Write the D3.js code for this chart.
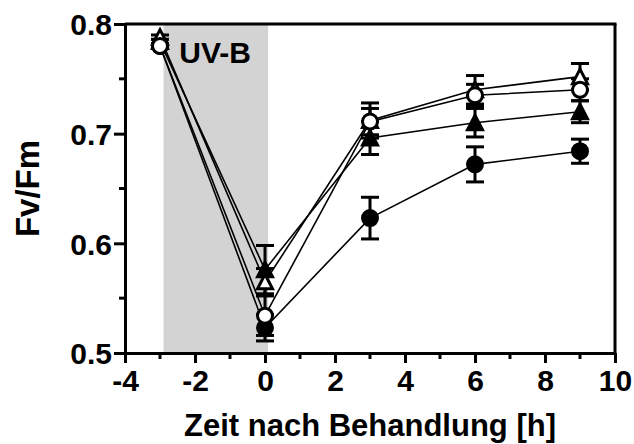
<!DOCTYPE html>
<html><head><meta charset="utf-8">
<script src="https://cdn.jsdelivr.net/npm/d3@7"></script>
<style>html,body{margin:0;padding:0;background:#fff;} text{font-family:"Liberation Sans",Arial,sans-serif;font-weight:bold;fill:#000;}</style>
</head><body><svg id="c" width="634" height="444"></svg>
<script>
const times = [-3, 0, 3, 6, 9];
const filledCircle = [0.780, 0.523, 0.623, 0.672, 0.684];
const filledCircleErr = [0.002, 0.012, 0.019, 0.016, 0.011];
const filledTriangle = [0.784, 0.576, 0.696, 0.710, 0.720];
const filledTriangleErr = [0.002, 0.022, 0.015, 0.013, 0.010];
const openTriangle = [0.788, 0.565, 0.712, 0.740, 0.752];
const openTriangleErr = [0.002, 0.012, 0.016, 0.013, 0.012];
const openCircle = [0.780, 0.534, 0.711, 0.735, 0.740];
const openCircleErr = [0.002, 0.018, 0.012, 0.010, 0.010];
const uvPeriod = [-2.9, 0.09];
const xTicks = [-4, -2, 0, 2, 4, 6, 8, 10];
const xMinor = [-3, -1, 1, 3, 5, 7, 9];
const yTicks = [0.5, 0.6, 0.7, 0.8];
const yMinor = [0.55, 0.65, 0.75];

const series = [
  {v: filledCircle, e: filledCircleErr, shape: "circle", fill: "#000"},
  {v: filledTriangle, e: filledTriangleErr, shape: "triangle", fill: "#000"},
  {v: openTriangle, e: openTriangleErr, shape: "triangle", fill: "#fff"},
  {v: openCircle, e: openCircleErr, shape: "circle", fill: "#fff"}
];

const W = 634, H = 444;
const m = {l: 125, r: 19, t: 24, b: 91};
const x = d3.scaleLinear().domain([-4, 10]).range([m.l, W - m.r]);
const y = d3.scaleLinear().domain([0.5, 0.8]).range([H - m.b, m.t]);
const svg = d3.select("#c");

// UV-B shaded region
svg.append("rect").attr("x", x(uvPeriod[0])).attr("y", y(0.8))
  .attr("width", x(uvPeriod[1]) - x(uvPeriod[0])).attr("height", y(0.5) - y(0.8))
  .attr("fill", "#d3d3d3");
svg.append("text").attr("x", x(-2.45)).attr("y", y(0.8) + 39).attr("font-size", 30).text("UV-B");

// frame
svg.append("line").attr("x1", x(-4)).attr("x2", x(10) + 1.5).attr("y1", y(0.8)).attr("y2", y(0.8)).attr("stroke", "#000").attr("stroke-width", 3);
svg.append("line").attr("x1", x(10)).attr("x2", x(10)).attr("y1", y(0.8)).attr("y2", y(0.5)).attr("stroke", "#000").attr("stroke-width", 3);

// axes
const xAxis = svg.append("g").attr("transform", `translate(0,${y(0.5)})`)
  .call(d3.axisBottom(x).tickValues(xTicks).tickSize(10).tickPadding(6).tickSizeOuter(0).tickFormat(d => String(d)));
xAxis.append("g").selectAll("line").data(xMinor).join("line")
  .attr("x1", d => x(d)).attr("x2", d => x(d)).attr("y1", 0).attr("y2", 6).attr("stroke", "#000").attr("stroke-width", 3);
const yAxis = svg.append("g").attr("transform", `translate(${x(-4)},0)`)
  .call(d3.axisLeft(y).tickValues(yTicks).tickSize(11).tickPadding(2).tickSizeOuter(0).tickFormat(d => d.toFixed(1)));
yAxis.append("g").selectAll("line").data(yMinor).join("line")
  .attr("x1", 0).attr("x2", -6).attr("y1", d => y(d)).attr("y2", d => y(d)).attr("stroke", "#000").attr("stroke-width", 3);
[xAxis, yAxis].forEach(a => {
  a.select(".domain").attr("stroke-width", 3).attr("stroke", "#000");
  a.selectAll(".tick line").attr("stroke-width", 3).attr("stroke", "#000");
  a.selectAll(".tick text").attr("font-size", 30).attr("font-family", '"Liberation Sans",Arial,sans-serif').attr("font-weight", "bold").attr("fill", "#000");
});
xAxis.selectAll(".tick text").attr("dy", "0.72em");
yAxis.selectAll(".tick text").attr("dy", "0.36em");

// axis titles
svg.append("text").attr("x", (x(-4) + x(10)) / 2).attr("y", 436).attr("text-anchor", "middle").attr("font-size", 31).text("Zeit nach Behandlung [h]");
svg.append("text").attr("transform", `translate(39,${(y(0.5) + y(0.8)) / 2}) rotate(-90)`).attr("text-anchor", "middle").attr("font-size", 33).text("Fv/Fm");

// lines
const line = d3.line().x((d, i) => x(times[i])).y(d => y(d));
const gLines = svg.append("g");
series.forEach(s => gLines.append("path").attr("d", line(s.v)).attr("fill", "none").attr("stroke", "#000").attr("stroke-width", 1.6));

// error bars
const gErr = svg.append("g").attr("stroke", "#000").attr("stroke-width", 3);
series.forEach(s => {
  s.v.forEach((v, i) => {
    const cx = x(times[i]);
    gErr.append("line").attr("x1", cx).attr("x2", cx).attr("y1", y(v - s.e[i])).attr("y2", y(v + s.e[i]));
    [v - s.e[i], v + s.e[i]].forEach(ev => gErr.append("line").attr("x1", cx - 9).attr("x2", cx + 9).attr("y1", y(ev)).attr("y2", y(ev)));
  });
});

// markers
const gM = svg.append("g");
series.forEach(s => {
  s.v.forEach((v, i) => {
    const cx = x(times[i]), cy = y(v);
    if (s.shape === "circle") {
      gM.append("circle").attr("cx", cx).attr("cy", cy).attr("r", 7.5).attr("fill", s.fill).attr("stroke", "#000").attr("stroke-width", 3);
    } else {
      gM.append("path").attr("d", `M${cx},${cy - 7.5}L${cx + 7.5},${cy + 7}L${cx - 7.5},${cy + 7}Z`)
        .attr("fill", s.fill).attr("stroke", "#000").attr("stroke-width", 3).attr("stroke-linejoin", "miter");
    }
  });
});
</script></body></html>
